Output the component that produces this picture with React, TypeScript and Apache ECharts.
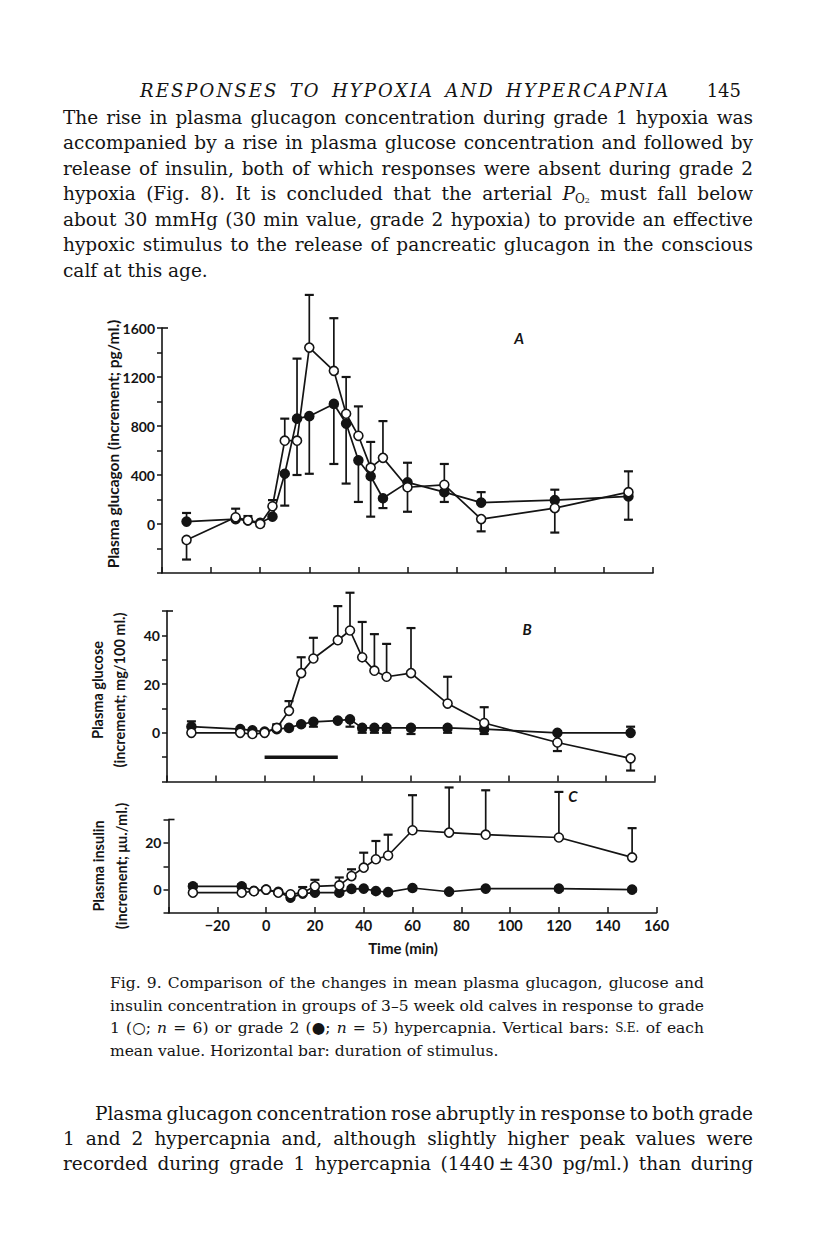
import React, { useEffect, useRef } from "react";
import * as echarts from "echarts";

// ---------- data ----------
const TIMES = [-30, -10, -5, 0, 5, 10, 15, 20, 30, 35, 40, 45, 50, 60, 75, 90, 120, 150];

// Panel A: plasma glucagon (increment; pg/ml.)  grade 1 = open, grade 2 = filled
const glucagonGrade1 = [-130, 55, 30, 0, 145, 680, 680, 1440, 1250, 900, 720, 460, 540, 300, 320, 40, 130, 260];
const glucagonGrade1SE = [-160, 70, 35, 0, 50, 180, -280, 430, 430, 300, 240, 210, 300, -200, 170, -100, -200, 170];
const glucagonGrade2 = [20, 40, 30, 10, 60, 410, 860, 880, 980, 820, 520, 390, 210, 340, 260, 175, 195, 225];
const glucagonGrade2SE = [70, 0, 0, 0, 0, -260, 490, -470, -490, -490, -340, -330, -80, 160, -80, 85, 85, -190];

// Panel B: plasma glucose (increment; mg/100 ml.)
const glucoseGrade1 = [0, 0, -0.5, 0, 2, 9, 24.5, 30.5, 38, 42, 31, 25.5, 23, 24.5, 12, 4, -4, -10.5];
const glucoseGrade1SE = [0, 0, 0, 0, 1.5, 4, 6.5, 8.5, 14, 15.5, 14.5, 15, 13.5, 18.5, 11, 6.5, -3.5, -5];
const glucoseGrade2 = [2.5, 1.5, 1, 0.5, 1.5, 2, 3.5, 4.5, 5, 5.5, 2, 2, 2, 2, 2, 1.5, 0, 0];
const glucoseGrade2SE = [2.2, -1.8, -1.5, 0, 1.5, 0, 0, -2, 0, -3, -2, -2, -2, -2.5, -2, -2, 0, 2.5];

// Panel C: plasma insulin (increment; µu./ml.)
const insulinGrade1 = [-1.3, -1.3, -0.7, 0, -1.3, -2, -1.3, 1.4, 1.8, 5.8, 9.4, 13, 14.6, 25.4, 24.4, 23.5, 22.3, 13.8];
const insulinGrade1SE = [0, 0, 0, 0, 0, 0, 2.4, 2.8, 3.4, 2.9, 6.4, 7.8, 8.9, 15, 19.3, 19, 19.5, 12.5];
const insulinGrade2 = [1.4, 1.4, -0.5, 0, -1, -3.4, -1.7, -1.3, -1.3, 0.3, 0.4, -0.6, -1.1, 0.7, -0.9, 0.4, 0.4, 0];
const insulinGrade2SE = [1, 0.8, 0, 0, 0, -0.8, 0, 0, -0.8, 0, 0, -0.8, 0, 0, 0, 0, -0.8, -0.8];

// stimulus duration (min) drawn at glucose level -10
const stimulusMinutes = [0, 30];
const stimulusLevel = -10;

// axis ranges and tick labels
const xRange = [-40, 160];
const xTickLabels = [-20, 0, 20, 40, 60, 80, 100, 120, 140, 160];
const glucagonRange = [-400, 1600];
const glucagonLabels = [0, 400, 800, 1200, 1600];
const glucoseRange = [-20, 50];
const glucoseLabels = [0, 20, 40];
const insulinRange = [-10, 30];
const insulinLabels = [0, 20];

// page text
const headerTitle = "RESPONSES TO HYPOXIA AND HYPERCAPNIA";
const pageNumber = "145";
const para1 = [
  "The rise in plasma glucagon concentration during grade 1 hypoxia was",
  "accompanied by a rise in plasma glucose concentration and followed by",
  "release of insulin, both of which responses were absent during grade 2",
  "hypoxia (Fig. 8). It is concluded that the arterial P_O2 must fall below",
  "about 30 mmHg (30 min value, grade 2 hypoxia) to provide an effective",
  "hypoxic stimulus to the release of pancreatic glucagon in the conscious",
  "calf at this age.",
];
const caption = [
  "Fig. 9. Comparison of the changes in mean plasma glucagon, glucose and",
  "insulin concentration in groups of 3\u20135 week old calves in response to grade",
  "1 (\u25CB; n = 6) or grade 2 (\u25CF; n = 5) hypercapnia. Vertical bars: S.E. of each",
  "mean value. Horizontal bar: duration of stimulus.",
];
const para2 = [
  "Plasma glucagon concentration rose abruptly in response to both grade",
  "1 and 2 hypercapnia and, although slightly higher peak values were",
  "recorded during grade 1 hypercapnia (1440\u2009\u00B1\u2009430 pg/ml.) than during",
];

// ---------- helpers ----------
const INK = "#141414";
const SANS = "Lato";
const SERIF = '"DejaVu Serif"';

type Seg = { t: string; font?: string; dy?: number };

let measureCtx: CanvasRenderingContext2D | null = null;
function measure(text: string, font: string): number {
  if (!measureCtx) measureCtx = document.createElement("canvas").getContext("2d");
  measureCtx!.font = font;
  return measureCtx!.measureText(text).width;
}

function textEl(text: string, x: number, y: number, font: string, extra: any = {}) {
  return {
    type: "text",
    x,
    y,
    silent: true,
    ...extra,
    style: {
      text,
      font,
      fill: INK,
      align: extra.align ?? "left",
      textAlign: extra.align ?? "left",
      verticalAlign: "middle",
      textVerticalAlign: "middle",
    },
  };
}

function layoutLine(
  line: string,
  x0: number,
  x1: number,
  y: number,
  font: string,
  justify: boolean,
  specials: Record<string, Seg[]> = {}
) {
  const toks: Seg[][] = line.split(" ").map((s) => specials[s] ?? [{ t: s }]);
  const widths = toks.map((tok) => tok.reduce((a, sg) => a + measure(sg.t, sg.font ?? font), 0));
  const total = widths.reduce((a, b) => a + b, 0);
  const gap = justify && toks.length > 1 ? (x1 - x0 - total) / (toks.length - 1) : measure(" ", font);
  let x = x0;
  const els: any[] = [];
  toks.forEach((tok) => {
    tok.forEach((sg) => {
      const f = sg.font ?? font;
      els.push(textEl(sg.t, x, y + (sg.dy ?? 0), f));
      x += measure(sg.t, f);
    });
    x += gap;
  });
  return els;
}

// letter-spaced line (running head)
function spacedLine(line: string, x0: number, x1: number, y: number, font: string) {
  const words = line.split(" ");
  const space = measure(" ", font) * 1.6;
  const nat = words.reduce((a, w) => a + measure(w, font), 0) + space * (words.length - 1);
  const nGaps = words.reduce((a, w) => a + w.length - 1, 0) + (words.length - 1) * 2;
  const ls = (x1 - x0 - nat) / nGaps;
  const els: any[] = [];
  let x = x0;
  words.forEach((w, wi) => {
    for (const ch of w) {
      els.push(textEl(ch, x, y, font));
      x += measure(ch, font) + ls;
    }
    if (wi < words.length - 1) x += space + ls;
  });
  return els;
}

function errorRender(params: any, api: any) {
  const t = api.value(0);
  const v = api.value(1);
  const e = api.value(2);
  const p1 = api.coord([t, v]);
  const p2 = api.coord([t, v + e]);
  return {
    type: "group",
    children: [
      { type: "line", shape: { x1: p1[0], y1: p1[1], x2: p2[0], y2: p2[1] }, style: { stroke: INK, lineWidth: 1.7 } },
      { type: "line", shape: { x1: p2[0] - 4.5, y1: p2[1], x2: p2[0] + 4.5, y2: p2[1] }, style: { stroke: INK, lineWidth: 2.2 } },
    ],
  };
}

function errSeries(idx: number, vals: number[], se: number[]) {
  return {
    type: "custom",
    xAxisIndex: idx,
    yAxisIndex: idx,
    data: TIMES.map((t, i) => [t, vals[i], se[i]]).filter((d) => d[2] !== 0),
    encode: { x: 0, y: 1 },
    renderItem: errorRender,
    clip: false,
    silent: true,
    z: 2,
  };
}

function lineSeries(idx: number, vals: number[], filled: boolean) {
  return {
    type: "line",
    xAxisIndex: idx,
    yAxisIndex: idx,
    data: TIMES.map((t, i) => [t, vals[i]]),
    symbol: "circle",
    symbolSize: 9,
    showSymbol: true,
    showAllSymbol: true,
    clip: false,
    silent: true,
    lineStyle: { color: INK, width: 1.7 },
    itemStyle: { color: filled ? INK : "#ffffff", borderColor: INK, borderWidth: 1.6, opacity: 1 },
    z: filled ? 3 : 4,
  };
}

const axisLine = { show: true, onZero: false, lineStyle: { color: INK, width: 1.6 } };

function xAxis(idx: number, showLabels: boolean) {
  return {
    type: "value",
    gridIndex: idx,
    min: xRange[0],
    max: xRange[1],
    interval: 20,
    axisLine,
    axisTick: { show: true, inside: true, length: 6, lineStyle: { color: INK, width: 1.5 } },
    splitLine: { show: false },
    axisLabel: {
      show: showLabels,
      margin: 5,
      color: INK,
      fontFamily: SANS,
      fontWeight: "bold",
      fontSize: 14.5,
      formatter: (v: number) => (xTickLabels.includes(v) ? (v < 0 ? "\u2212" + Math.abs(v) : String(v)) : ""),
    },
  };
}

function yAxis(idx: number, range: number[], interval: number, labels: number[]) {
  return {
    type: "value",
    gridIndex: idx,
    min: range[0],
    max: range[1],
    interval,
    axisLine,
    axisTick: { show: true, inside: false, length: 5, lineStyle: { color: INK, width: 1.5 } },
    splitLine: { show: false },
    axisLabel: {
      margin: 7,
      color: INK,
      fontFamily: SANS,
      fontWeight: "bold",
      fontSize: 14,
      formatter: (v: number) => (labels.includes(v) ? String(v) : ""),
    },
  };
}

function buildGraphics(chart: any) {
  const els: any[] = [];
  const bodyFont = `18.5px ${SERIF}`;
  const capFont = `15.5px ${SERIF}`;
  const headFont = `italic 18px ${SERIF}`;

  // running head
  els.push(...spacedLine(headerTitle, 140, 668, 90, headFont));
  els.push(textEl(pageNumber, 741, 90, `18px ${SERIF}`, { align: "right" }));

  const subSpecial: Record<string, Seg[]> = {
    P_O2: [
      { t: "P", font: `italic 18.5px ${SERIF}` },
      { t: "O", font: `12px ${SERIF}`, dy: 5 },
      { t: "2", font: `8px ${SERIF}`, dy: 7 },
    ],
  };
  const p1Y = [117, 142.5, 168, 193.5, 219, 244.5, 270];
  para1.forEach((ln, i) => {
    els.push(...layoutLine(ln, 63, 753, p1Y[i], bodyFont, i < para1.length - 1, subSpecial));
  });

  const capSpecial: Record<string, Seg[]> = {
    n: [{ t: "n", font: `italic 15.5px ${SERIF}` }],
    "S.E.": [{ t: "S.E.", font: `12px ${SERIF}` }],
  };
  const capY = [983, 1005.5, 1028, 1050.5];
  caption.forEach((ln, i) => {
    els.push(...layoutLine(ln, 110, 704, capY[i], capFont, i < caption.length - 1, capSpecial));
  });

  const p2Y = [1113, 1138, 1163];
  para2.forEach((ln, i) => {
    els.push(...layoutLine(ln, i === 0 ? 95 : 63, 753, p2Y[i], bodyFont, true));
  });

  // axis titles
  const axFont = `bold 14.5px ${SANS}`;
  const rot = { rotation: Math.PI / 2, align: "center" };
  els.push(textEl("Plasma glucagon (increment; pg/ml.)", 113, 444, `bold 15.5px ${SANS}`, rot));
  els.push(textEl("Plasma glucose", 97, 690, axFont, rot));
  els.push(textEl("(increment; mg/100 ml.)", 119, 690, axFont, rot));
  els.push(textEl("Plasma insulin", 98, 866, axFont, rot));
  els.push(textEl("(increment; \u03BCu./ml.)", 121, 866, axFont, rot));
  els.push(textEl("Time (min)", 403, 948, `bold 15px ${SANS}`, { align: "center" }));

  // panel letters
  const letFont = `italic bold 15px ${SANS}`;
  els.push(textEl("A", 519, 338, letFont, { align: "center" }));
  els.push(textEl("B", 527, 629, letFont, { align: "center" }));
  els.push(textEl("C", 573, 796, letFont, { align: "center" }));

  // inward caps at the top of each y axis
  const tops = [glucagonRange[1], glucoseRange[1], insulinRange[1]];
  tops.forEach((top, i) => {
    const p = chart.convertToPixel({ gridIndex: i }, [xRange[0], top]);
    if (p) {
      els.push({
        type: "line",
        silent: true,
        shape: { x1: p[0], y1: p[1], x2: p[0] + 6, y2: p[1] },
        style: { stroke: INK, lineWidth: 1.6 },
      });
    }
  });
  return els;
}

export default function App() {
  const ref = useRef<HTMLDivElement>(null);
  useEffect(() => {
    if (!ref.current) return;
    const chart = echarts.init(ref.current, undefined, { renderer: "svg" });
    const option: any = {
      animation: false,
      backgroundColor: "#ffffff",
      grid: [
        { left: 162, top: 328, width: 491, height: 245 },
        { left: 167, top: 611, width: 488, height: 170.5 },
        { left: 168.5, top: 819.5, width: 488, height: 93.5 },
      ],
      xAxis: [xAxis(0, false), xAxis(1, false), xAxis(2, true)],
      yAxis: [
        yAxis(0, glucagonRange, 200, glucagonLabels),
        yAxis(1, glucoseRange, 10, glucoseLabels),
        yAxis(2, insulinRange, 10, insulinLabels),
      ],
      series: [
        errSeries(0, glucagonGrade2, glucagonGrade2SE),
        errSeries(0, glucagonGrade1, glucagonGrade1SE),
        lineSeries(0, glucagonGrade2, true),
        lineSeries(0, glucagonGrade1, false),
        errSeries(1, glucoseGrade2, glucoseGrade2SE),
        errSeries(1, glucoseGrade1, glucoseGrade1SE),
        lineSeries(1, glucoseGrade2, true),
        lineSeries(1, glucoseGrade1, false),
        {
          type: "line",
          xAxisIndex: 1,
          yAxisIndex: 1,
          data: stimulusMinutes.map((t) => [t, stimulusLevel]),
          symbol: "none",
          silent: true,
          lineStyle: { color: INK, width: 3.5 },
        },
        errSeries(2, insulinGrade2, insulinGrade2SE),
        errSeries(2, insulinGrade1, insulinGrade1SE),
        lineSeries(2, insulinGrade2, true),
        lineSeries(2, insulinGrade1, false),
      ],
    };
    chart.setOption(option);
    chart.setOption({ graphic: { elements: buildGraphics(chart) } });
    return () => chart.dispose();
  }, []);
  return (
    <div
      ref={ref}
      style={{ position: "absolute", left: 0, top: 0, width: 816, height: 1238, background: "#fff" }}
    />
  );
}
